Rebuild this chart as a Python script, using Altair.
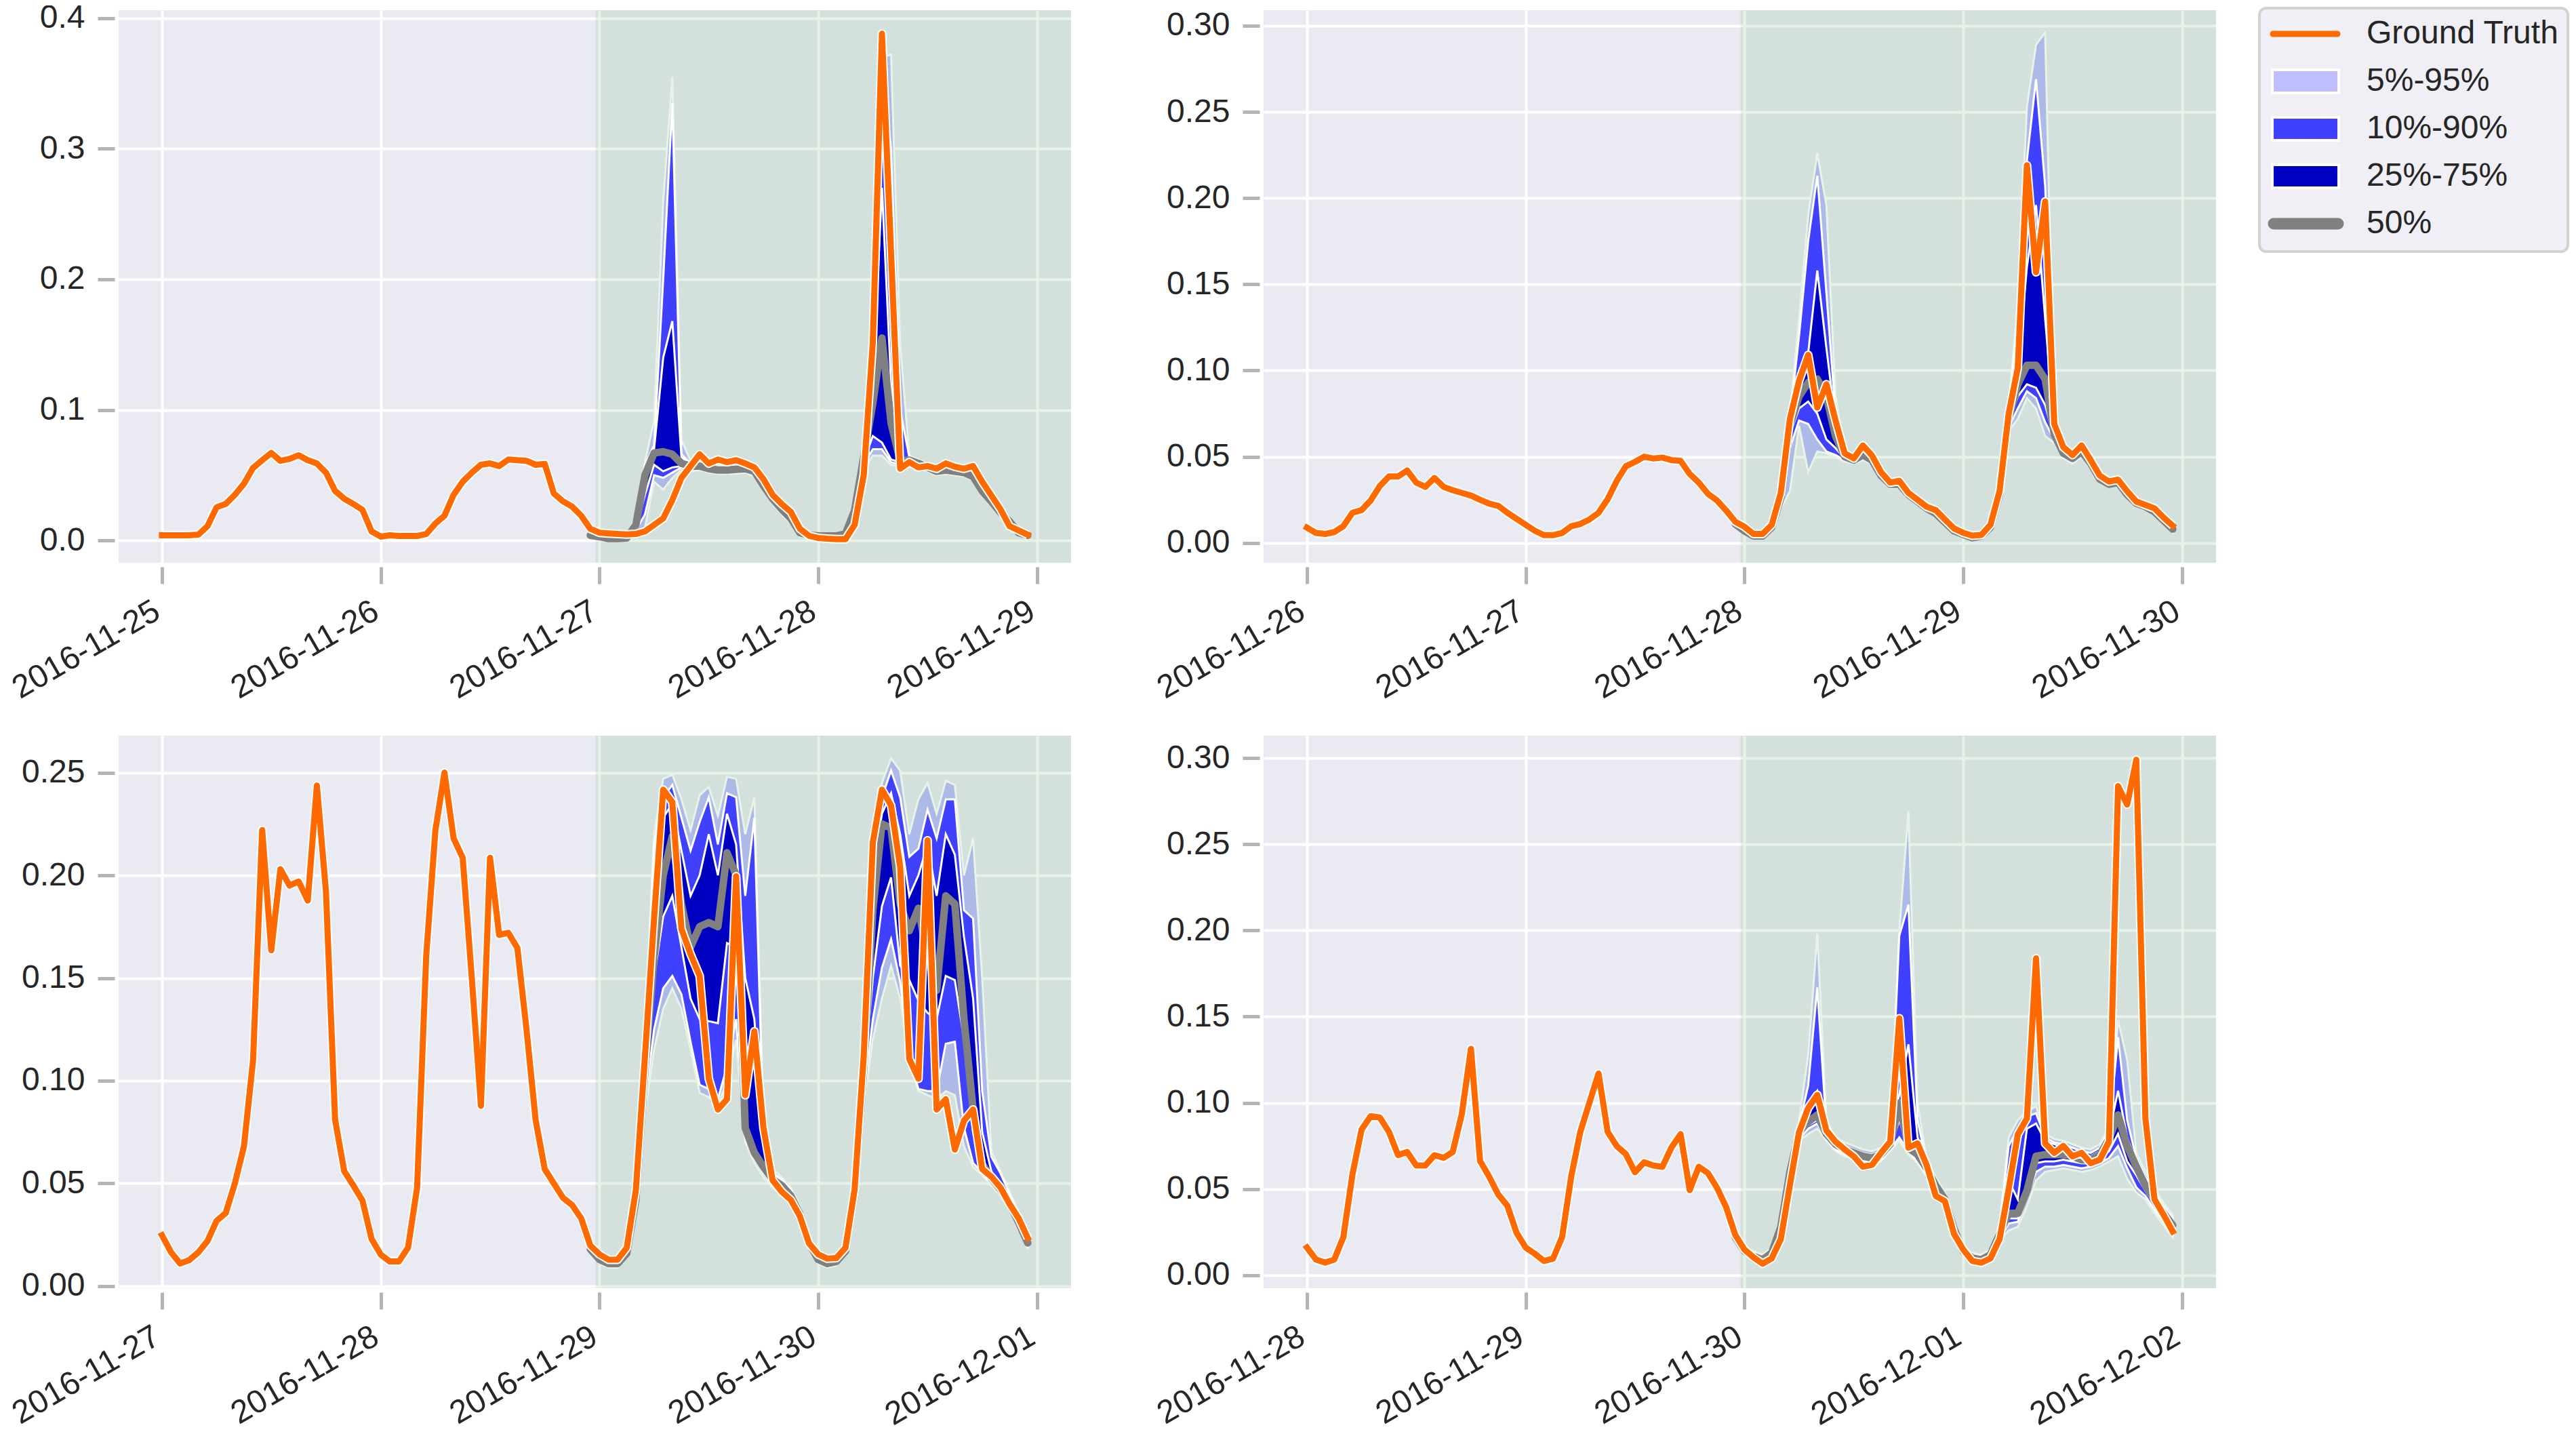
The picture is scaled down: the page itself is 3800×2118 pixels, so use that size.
import altair as alt
import pandas as pd

FONT = "Liberation Sans"
TEXT = "#262626"
ORANGE = "#FF6A00"
LIGHT = "#BFBFFF"
MID = "#4040FF"
DARK = "#0000C0"
GRAY = "#808080"

SERIES = ["Ground Truth", "5%-95%", "10%-90%", "25%-75%", "50%"]
SERIES_KIND = ["line", "band", "band", "band", "line"]
SERIES_COLORS = [ORANGE, LIGHT, MID, DARK, GRAY]

# ---------------- panel 1 (top left) ----------------
P1_START = "2016-11-25"
P1_YDOMAIN = [-0.017, 0.406]
P1_YTICKS = [0.0, 0.1, 0.2, 0.3, 0.4]
P1_GT = [0.004, 0.004, 0.004, 0.004, 0.0045, 0.011, 0.0255, 0.028, 0.035, 0.0435, 0.0556, 0.0615, 0.067, 0.061, 0.0625, 0.0653, 0.0615, 0.059, 0.052, 0.038, 0.032, 0.028, 0.0235, 0.007,
         0.003, 0.004, 0.0035, 0.0035, 0.0035, 0.005, 0.013, 0.019, 0.035, 0.045, 0.052, 0.058, 0.059, 0.057, 0.062, 0.0615, 0.061, 0.058, 0.0587, 0.036, 0.030, 0.026, 0.019, 0.009,
         0.006, 0.0055, 0.005, 0.0047, 0.005, 0.007, 0.012, 0.017, 0.031, 0.048, 0.057, 0.066, 0.059, 0.062, 0.060, 0.0615, 0.059, 0.056, 0.047, 0.035, 0.028, 0.022, 0.009, 0.0036,
         0.002, 0.0014, 0.001, 0.001, 0.012, 0.050, 0.152, 0.388, 0.22, 0.055, 0.060, 0.056, 0.057, 0.055, 0.059, 0.0565, 0.055, 0.057, 0.045, 0.0345, 0.024, 0.011, 0.0077, 0.0044]
P1_Q05 = [0.002,
          0.001, 0.0005, 0.0005, 0.001, 0.006, 0.01, 0.045, 0.039, 0.048, 0.054, 0.053, 0.054, 0.052, 0.051, 0.051, 0.051, 0.052, 0.049, 0.038, 0.028, 0.02, 0.013, 0.003, 0.002,
          0.002, 0.002, 0.002, 0.003, 0.015, 0.055, 0.065, 0.065, 0.058, 0.057, 0.058, 0.056, 0.053, 0.05, 0.051, 0.05, 0.049, 0.046, 0.035, 0.027, 0.019, 0.012, 0.004, 0.002]
P1_Q10 = [0.0025,
          0.0015, 0.001, 0.001, 0.0015, 0.008, 0.02, 0.05, 0.048, 0.052, 0.056, 0.055, 0.055, 0.053, 0.052, 0.052, 0.052, 0.053, 0.051, 0.04, 0.03, 0.022, 0.015, 0.004, 0.003,
          0.0025, 0.0025, 0.0025, 0.0035, 0.017, 0.058, 0.07, 0.07, 0.060, 0.058, 0.059, 0.057, 0.054, 0.051, 0.052, 0.051, 0.050, 0.047, 0.036, 0.028, 0.020, 0.013, 0.0045, 0.0025]
P1_Q25 = [0.003,
          0.002, 0.0012, 0.0012, 0.0017, 0.01, 0.035, 0.058, 0.053, 0.056, 0.057, 0.056, 0.056, 0.054, 0.053, 0.053, 0.053, 0.054, 0.052, 0.041, 0.031, 0.023, 0.016, 0.005, 0.0035,
          0.003, 0.003, 0.003, 0.004, 0.02, 0.061, 0.08, 0.075, 0.062, 0.060, 0.060, 0.058, 0.055, 0.052, 0.053, 0.052, 0.051, 0.048, 0.037, 0.029, 0.021, 0.014, 0.005, 0.003]
P1_Q50 = [0.004,
          0.003, 0.0015, 0.0015, 0.002, 0.012, 0.05, 0.067, 0.068, 0.066, 0.059, 0.057, 0.057, 0.055, 0.054, 0.054, 0.0545, 0.055, 0.053, 0.042, 0.032, 0.024, 0.017, 0.006, 0.004,
          0.0036, 0.0035, 0.0035, 0.005, 0.023, 0.064, 0.105, 0.155, 0.09, 0.061, 0.0615, 0.059, 0.056, 0.053, 0.054, 0.053, 0.052, 0.049, 0.038, 0.030, 0.0215, 0.0146, 0.006, 0.004]
P1_Q75 = [0.005,
          0.004, 0.002, 0.002, 0.003, 0.014, 0.055, 0.070, 0.140, 0.168, 0.064, 0.058, 0.058, 0.056, 0.055, 0.055, 0.0555, 0.056, 0.054, 0.043, 0.033, 0.025, 0.018, 0.007, 0.005,
          0.004, 0.004, 0.004, 0.006, 0.026, 0.067, 0.12, 0.27, 0.12, 0.062, 0.063, 0.060, 0.057, 0.054, 0.055, 0.054, 0.053, 0.050, 0.039, 0.031, 0.022, 0.0155, 0.007, 0.005]
P1_Q90 = [0.0055,
          0.005, 0.0025, 0.0025, 0.0035, 0.016, 0.058, 0.073, 0.20, 0.335, 0.066, 0.059, 0.059, 0.057, 0.056, 0.056, 0.056, 0.057, 0.055, 0.044, 0.034, 0.026, 0.019, 0.008, 0.0055,
          0.0045, 0.0045, 0.0045, 0.0065, 0.028, 0.07, 0.17, 0.36, 0.30, 0.10, 0.064, 0.061, 0.058, 0.055, 0.056, 0.055, 0.054, 0.051, 0.040, 0.032, 0.023, 0.016, 0.008, 0.0055]
P1_Q95 = [0.006,
          0.006, 0.003, 0.003, 0.004, 0.018, 0.06, 0.092, 0.26, 0.355, 0.077, 0.061, 0.060, 0.058, 0.057, 0.057, 0.057, 0.058, 0.056, 0.045, 0.035, 0.027, 0.02, 0.009, 0.006,
          0.005, 0.005, 0.005, 0.007, 0.03, 0.073, 0.20, 0.37, 0.372, 0.15, 0.065, 0.062, 0.059, 0.056, 0.057, 0.056, 0.055, 0.052, 0.041, 0.033, 0.024, 0.017, 0.009, 0.006]

# ---------------- panel 2 (top right) ----------------
P2_START = "2016-11-26"
P2_YDOMAIN = [-0.0115, 0.309]
P2_YTICKS = [0.0, 0.05, 0.10, 0.15, 0.20, 0.25, 0.30]
P2_GT = [0.0089, 0.0058, 0.0052, 0.0063, 0.0097, 0.0175, 0.019, 0.0246, 0.033, 0.0385, 0.0385, 0.042, 0.035, 0.0325, 0.0377, 0.0325, 0.0306, 0.029, 0.0275, 0.025, 0.0228, 0.0215, 0.0175, 0.014,
         0.0105, 0.0071, 0.0045, 0.0045, 0.0058, 0.0097, 0.011, 0.0136, 0.0175, 0.0254, 0.036, 0.0445, 0.047, 0.050, 0.049, 0.0495, 0.048, 0.0476, 0.040, 0.035, 0.0285, 0.0246, 0.0188, 0.0123,
         0.0094, 0.0052, 0.0052, 0.0105, 0.029, 0.072, 0.094, 0.109, 0.0785, 0.092, 0.071, 0.052, 0.049, 0.0565, 0.0507, 0.041, 0.035, 0.036, 0.029, 0.025, 0.021, 0.019, 0.0136, 0.0084,
         0.0059, 0.0042, 0.0046, 0.0105, 0.030, 0.075, 0.1016, 0.219, 0.157, 0.198, 0.069, 0.0555, 0.051, 0.0565, 0.048, 0.039, 0.0356, 0.0367, 0.030, 0.024, 0.022, 0.020, 0.0147, 0.010]
P2_Q05 = [0.009,
          0.006, 0.003, 0.003, 0.007, 0.02, 0.03, 0.068, 0.041, 0.053, 0.052, 0.05, 0.047, 0.046, 0.048, 0.046, 0.037, 0.032, 0.032, 0.026, 0.022, 0.018, 0.015, 0.01, 0.006,
          0.004, 0.002, 0.003, 0.007, 0.024, 0.065, 0.072, 0.084, 0.078, 0.062, 0.058, 0.049, 0.046, 0.050, 0.043, 0.035, 0.032, 0.033, 0.026, 0.021, 0.019, 0.016, 0.011, 0.006]
P2_Q10 = [0.0095,
          0.0065, 0.0035, 0.0035, 0.008, 0.022, 0.055, 0.071, 0.069, 0.06, 0.053, 0.051, 0.048, 0.047, 0.049, 0.047, 0.038, 0.033, 0.033, 0.027, 0.023, 0.019, 0.016, 0.011, 0.0065,
          0.0042, 0.0022, 0.0032, 0.0075, 0.025, 0.067, 0.078, 0.088, 0.084, 0.07, 0.06, 0.050, 0.047, 0.051, 0.044, 0.0355, 0.0325, 0.0335, 0.0265, 0.0215, 0.0195, 0.0165, 0.0115, 0.0065]
P2_Q25 = [0.010,
          0.0068, 0.0038, 0.0038, 0.0085, 0.024, 0.063, 0.078, 0.082, 0.075, 0.06, 0.055, 0.049, 0.0475, 0.050, 0.0475, 0.0385, 0.0335, 0.0335, 0.0275, 0.0235, 0.0195, 0.0165, 0.0115, 0.0068,
          0.0045, 0.0025, 0.0035, 0.008, 0.026, 0.070, 0.085, 0.092, 0.09, 0.08, 0.061, 0.051, 0.048, 0.052, 0.045, 0.036, 0.033, 0.034, 0.027, 0.022, 0.020, 0.017, 0.012, 0.007]
P2_Q50 = [0.011,
          0.007, 0.004, 0.004, 0.009, 0.026, 0.068, 0.085, 0.093, 0.095, 0.085, 0.062, 0.05, 0.048, 0.051, 0.048, 0.039, 0.034, 0.034, 0.028, 0.024, 0.020, 0.017, 0.012, 0.007,
          0.005, 0.003, 0.004, 0.009, 0.028, 0.072, 0.092, 0.103, 0.103, 0.095, 0.063, 0.052, 0.049, 0.053, 0.046, 0.037, 0.034, 0.035, 0.028, 0.023, 0.021, 0.018, 0.013, 0.008]
P2_Q75 = [0.0115,
          0.0075, 0.0045, 0.0045, 0.0095, 0.028, 0.070, 0.10, 0.11, 0.158, 0.113, 0.07, 0.051, 0.049, 0.052, 0.049, 0.040, 0.035, 0.035, 0.029, 0.025, 0.021, 0.018, 0.013, 0.0075,
          0.0055, 0.0035, 0.0045, 0.010, 0.030, 0.075, 0.10, 0.16, 0.196, 0.13, 0.066, 0.053, 0.050, 0.054, 0.047, 0.038, 0.035, 0.036, 0.029, 0.024, 0.022, 0.019, 0.014, 0.009]
P2_Q90 = [0.012,
          0.008, 0.005, 0.005, 0.010, 0.030, 0.072, 0.12, 0.175, 0.213, 0.145, 0.075, 0.052, 0.050, 0.053, 0.050, 0.041, 0.036, 0.036, 0.030, 0.026, 0.022, 0.019, 0.014, 0.008,
          0.006, 0.004, 0.005, 0.011, 0.031, 0.078, 0.13, 0.222, 0.269, 0.207, 0.07, 0.054, 0.051, 0.055, 0.048, 0.039, 0.036, 0.037, 0.030, 0.025, 0.023, 0.020, 0.015, 0.0095]
P2_Q95 = [0.013,
          0.009, 0.0055, 0.0055, 0.011, 0.032, 0.075, 0.13, 0.19, 0.226, 0.196, 0.085, 0.054, 0.051, 0.054, 0.051, 0.042, 0.037, 0.037, 0.031, 0.027, 0.023, 0.020, 0.015, 0.009,
          0.0065, 0.0045, 0.0055, 0.012, 0.032, 0.08, 0.14, 0.253, 0.289, 0.296, 0.073, 0.056, 0.053, 0.057, 0.050, 0.041, 0.037, 0.038, 0.031, 0.026, 0.024, 0.021, 0.016, 0.010]

# ---------------- panel 3 (bottom left) ----------------
P3_START = "2016-11-27"
P3_YDOMAIN = [-0.001, 0.268]
P3_YTICKS = [0.0, 0.05, 0.10, 0.15, 0.20, 0.25]
P3_GT = [0.0248, 0.0165, 0.011, 0.0127, 0.0165, 0.022, 0.0318, 0.0356, 0.050, 0.068, 0.110, 0.222, 0.1635, 0.203, 0.195, 0.197, 0.1877, 0.2437, 0.192, 0.081, 0.056, 0.049, 0.0417, 0.023,
         0.0154, 0.012, 0.012, 0.0187, 0.048, 0.161, 0.2217, 0.250, 0.218, 0.2085, 0.15, 0.0878, 0.2085, 0.171, 0.172, 0.1646, 0.125, 0.081, 0.057, 0.050, 0.043, 0.0395, 0.033, 0.0198,
         0.0155, 0.0129, 0.0129, 0.0187, 0.0468, 0.112, 0.179, 0.2417, 0.2356, 0.174, 0.1616, 0.151, 0.101, 0.086, 0.091, 0.1995, 0.093, 0.124, 0.077, 0.0516, 0.046, 0.042, 0.034, 0.0208,
         0.0155, 0.0134, 0.0137, 0.0187, 0.047, 0.112, 0.216, 0.2417, 0.234, 0.204, 0.1106, 0.101, 0.217, 0.086, 0.091, 0.0665, 0.0806, 0.086, 0.057, 0.0533, 0.048, 0.040, 0.033, 0.0234]
P3_Q05 = [0.016,
          0.011, 0.009, 0.009, 0.014, 0.038, 0.085, 0.115, 0.135, 0.145, 0.135, 0.115, 0.094, 0.092, 0.088, 0.10, 0.12, 0.07, 0.06, 0.053, 0.048, 0.045, 0.040, 0.031, 0.018,
          0.011, 0.009, 0.010, 0.015, 0.040, 0.088, 0.12, 0.14, 0.156, 0.14, 0.109, 0.095, 0.093, 0.091, 0.095, 0.093, 0.068, 0.058, 0.054, 0.049, 0.044, 0.037, 0.028, 0.018]
P3_Q10 = [0.0165,
          0.0115, 0.0095, 0.0095, 0.0145, 0.039, 0.09, 0.125, 0.145, 0.151, 0.142, 0.119, 0.098, 0.096, 0.091, 0.107, 0.13, 0.072, 0.062, 0.055, 0.049, 0.046, 0.041, 0.032, 0.019,
          0.0115, 0.0095, 0.0105, 0.0155, 0.041, 0.092, 0.13, 0.155, 0.169, 0.148, 0.112, 0.096, 0.095, 0.095, 0.118, 0.119, 0.077, 0.06, 0.055, 0.050, 0.045, 0.038, 0.029, 0.019]
P3_Q25 = [0.017,
          0.012, 0.010, 0.010, 0.015, 0.040, 0.10, 0.15, 0.18, 0.19, 0.165, 0.14, 0.13, 0.129, 0.128, 0.167, 0.165, 0.075, 0.063, 0.056, 0.050, 0.047, 0.042, 0.033, 0.020,
          0.012, 0.010, 0.011, 0.016, 0.043, 0.10, 0.15, 0.185, 0.199, 0.156, 0.149, 0.139, 0.133, 0.13, 0.151, 0.149, 0.12, 0.075, 0.058, 0.051, 0.046, 0.039, 0.030, 0.020]
P3_Q50 = [0.018,
          0.013, 0.011, 0.011, 0.016, 0.042, 0.105, 0.16, 0.20, 0.219, 0.186, 0.165, 0.175, 0.177, 0.175, 0.211, 0.200, 0.077, 0.065, 0.058, 0.052, 0.049, 0.044, 0.035, 0.021,
          0.013, 0.011, 0.012, 0.017, 0.045, 0.105, 0.183, 0.225, 0.223, 0.186, 0.173, 0.184, 0.16, 0.144, 0.19, 0.186, 0.13, 0.086, 0.0595, 0.0525, 0.047, 0.040, 0.031, 0.021]
P3_Q75 = [0.019,
          0.014, 0.012, 0.012, 0.017, 0.044, 0.115, 0.20, 0.228, 0.235, 0.212, 0.19, 0.20, 0.22, 0.20, 0.23, 0.215, 0.15, 0.13, 0.07, 0.054, 0.051, 0.046, 0.037, 0.022,
          0.014, 0.012, 0.013, 0.018, 0.047, 0.11, 0.2, 0.23, 0.24, 0.22, 0.19, 0.2, 0.215, 0.19, 0.22, 0.21, 0.17, 0.14, 0.075, 0.056, 0.049, 0.042, 0.033, 0.022]
P3_Q90 = [0.020,
          0.015, 0.013, 0.013, 0.018, 0.045, 0.12, 0.215, 0.238, 0.244, 0.228, 0.212, 0.226, 0.238, 0.215, 0.24, 0.238, 0.19, 0.228, 0.075, 0.055, 0.052, 0.047, 0.038, 0.023,
          0.015, 0.013, 0.014, 0.019, 0.048, 0.12, 0.21, 0.238, 0.251, 0.238, 0.209, 0.213, 0.232, 0.218, 0.237, 0.237, 0.183, 0.179, 0.095, 0.063, 0.055, 0.045, 0.035, 0.024]
P3_Q95 = [0.021,
          0.016, 0.014, 0.014, 0.019, 0.046, 0.125, 0.22, 0.247, 0.249, 0.237, 0.222, 0.239, 0.243, 0.229, 0.248, 0.247, 0.22, 0.238, 0.08, 0.057, 0.053, 0.048, 0.039, 0.024,
          0.016, 0.014, 0.015, 0.020, 0.049, 0.13, 0.22, 0.245, 0.257, 0.251, 0.22, 0.237, 0.245, 0.23, 0.246, 0.244, 0.20, 0.218, 0.15, 0.066, 0.056, 0.046, 0.036, 0.025]

# ---------------- panel 4 (bottom right) ----------------
P4_START = "2016-11-28"
P4_YDOMAIN = [-0.0075, 0.313]
P4_YTICKS = [0.0, 0.05, 0.10, 0.15, 0.20, 0.25, 0.30]
P4_GT = [0.0161, 0.0091, 0.0073, 0.0091, 0.0221, 0.0585, 0.0845, 0.0923, 0.0915, 0.0832, 0.0697, 0.0715, 0.0637, 0.0637, 0.0697, 0.0681, 0.0715, 0.0936, 0.1313, 0.0663, 0.0572, 0.0468, 0.0403, 0.0247,
         0.0161, 0.0125, 0.0083, 0.0096, 0.0221, 0.0572, 0.0832, 0.1001, 0.117, 0.0832, 0.0749, 0.0702, 0.0598, 0.0655, 0.0637, 0.0629, 0.0741, 0.0819, 0.0494, 0.0629, 0.0593, 0.0507, 0.0395, 0.0234,
         0.015, 0.0104, 0.0067, 0.0098, 0.021, 0.0525, 0.083, 0.097, 0.1046, 0.084, 0.0775, 0.073, 0.069, 0.063, 0.064, 0.071, 0.0775, 0.149, 0.074, 0.0765, 0.064, 0.046, 0.043, 0.024,
         0.015, 0.0083, 0.0073, 0.0098, 0.021, 0.050, 0.0817, 0.091, 0.1838, 0.0765, 0.071, 0.075, 0.069, 0.071, 0.065, 0.067, 0.0775, 0.2837, 0.273, 0.299, 0.091, 0.044, 0.035, 0.0254]
P4_Q05 = [0.019,
          0.012, 0.009, 0.007, 0.011, 0.025, 0.055, 0.078, 0.082, 0.085, 0.078, 0.072, 0.069, 0.067, 0.065, 0.064, 0.066, 0.072, 0.078, 0.07, 0.065, 0.057, 0.049, 0.041, 0.024,
          0.012, 0.008, 0.007, 0.010, 0.020, 0.026, 0.028, 0.040, 0.055, 0.060, 0.061, 0.062, 0.061, 0.060, 0.061, 0.063, 0.066, 0.069, 0.056, 0.048, 0.044, 0.036, 0.029, 0.022]
P4_Q10 = [0.020,
          0.0125, 0.0095, 0.0075, 0.0115, 0.026, 0.056, 0.079, 0.085, 0.088, 0.079, 0.073, 0.070, 0.068, 0.066, 0.065, 0.067, 0.073, 0.08, 0.072, 0.066, 0.058, 0.050, 0.042, 0.025,
          0.0125, 0.0085, 0.0075, 0.0105, 0.021, 0.030, 0.031, 0.045, 0.060, 0.063, 0.063, 0.064, 0.063, 0.062, 0.063, 0.065, 0.068, 0.075, 0.062, 0.051, 0.046, 0.038, 0.031, 0.024]
P4_Q25 = [0.021,
          0.013, 0.010, 0.008, 0.012, 0.027, 0.058, 0.081, 0.087, 0.090, 0.080, 0.074, 0.071, 0.069, 0.067, 0.066, 0.068, 0.074, 0.09, 0.073, 0.067, 0.059, 0.051, 0.043, 0.026,
          0.013, 0.009, 0.008, 0.011, 0.022, 0.033, 0.033, 0.047, 0.065, 0.066, 0.066, 0.067, 0.066, 0.065, 0.065, 0.067, 0.072, 0.082, 0.066, 0.058, 0.049, 0.041, 0.033, 0.026]
P4_Q50 = [0.022,
          0.014, 0.011, 0.009, 0.013, 0.028, 0.06, 0.083, 0.089, 0.093, 0.082, 0.076, 0.073, 0.071, 0.069, 0.068, 0.070, 0.076, 0.10, 0.074, 0.070, 0.062, 0.052, 0.044, 0.027,
          0.014, 0.010, 0.009, 0.012, 0.024, 0.036, 0.036, 0.049, 0.069, 0.070, 0.070, 0.070, 0.069, 0.067, 0.067, 0.070, 0.079, 0.093, 0.075, 0.063, 0.052, 0.044, 0.036, 0.029]
P4_Q75 = [0.023,
          0.015, 0.012, 0.010, 0.014, 0.029, 0.062, 0.085, 0.10, 0.107, 0.084, 0.077, 0.074, 0.072, 0.070, 0.069, 0.071, 0.078, 0.105, 0.134, 0.08, 0.064, 0.054, 0.045, 0.028,
          0.015, 0.011, 0.010, 0.013, 0.026, 0.055, 0.044, 0.085, 0.088, 0.078, 0.076, 0.074, 0.072, 0.070, 0.069, 0.072, 0.082, 0.107, 0.08, 0.066, 0.055, 0.046, 0.038, 0.031]
P4_Q90 = [0.024,
          0.016, 0.013, 0.011, 0.015, 0.030, 0.064, 0.087, 0.11, 0.167, 0.086, 0.078, 0.075, 0.073, 0.071, 0.070, 0.072, 0.08, 0.197, 0.215, 0.09, 0.065, 0.055, 0.046, 0.029,
          0.016, 0.012, 0.011, 0.014, 0.028, 0.075, 0.085, 0.092, 0.094, 0.080, 0.077, 0.076, 0.074, 0.072, 0.071, 0.074, 0.084, 0.138, 0.09, 0.068, 0.057, 0.048, 0.040, 0.033]
P4_Q95 = [0.025,
          0.017, 0.014, 0.012, 0.016, 0.032, 0.066, 0.09, 0.1275, 0.198, 0.09, 0.080, 0.077, 0.075, 0.073, 0.072, 0.074, 0.082, 0.2, 0.269, 0.1, 0.067, 0.057, 0.048, 0.030,
          0.017, 0.013, 0.012, 0.015, 0.030, 0.080, 0.09, 0.095, 0.098, 0.082, 0.079, 0.078, 0.076, 0.074, 0.073, 0.076, 0.086, 0.148, 0.125, 0.071, 0.060, 0.050, 0.042, 0.035]

PANEL_W = 1405
PANEL_H = 815
LEG_X0 = PANEL_W + 64
LEG_Y0 = -3
LEG_W = 455
LEG_H = 359
TICK_FONT = 48

CSCALE = alt.Scale(domain=SERIES, range=SERIES_COLORS)


def dt(ts):
    return alt.DateTime(year=int(ts.year), month=int(ts.month), date=int(ts.day),
                        hours=int(ts.hour), minutes=int(ts.minute))


def panel(start, gt, qs, ydomain, yticks, yfmt):
    assert len(gt) == 96, len(gt)
    for q in qs:
        assert len(q) == 49, len(q)
    t0 = pd.Timestamp(start)
    hist_t = pd.date_range(t0, periods=len(gt), freq="h")
    fc_t = pd.date_range(t0 + pd.Timedelta(hours=47), periods=len(qs[0]), freq="h")
    gt_df = pd.DataFrame({"t": hist_t, "v": gt})
    fc_df = pd.DataFrame({"t": fc_t, "q05": qs[0], "q10": qs[1], "q25": qs[2], "q50": qs[3],
                          "q75": qs[4], "q90": qs[5], "q95": qs[6]})
    pad = pd.Timedelta(minutes=285)
    x_lo = hist_t[0] - pad
    x_hi = hist_t[-1] + pad
    shade_df = pd.DataFrame({"a": [t0 + pd.Timedelta(hours=48) - pd.Timedelta(minutes=25)],
                             "b": [x_hi], "lo": [ydomain[0]], "hi": [ydomain[1]]})

    xs = alt.Scale(domain=[dt(x_lo), dt(x_hi)], nice=False)
    ys = alt.Scale(domain=ydomain, nice=False, zero=False)
    xaxis = alt.Axis(values=[dt(t0 + pd.Timedelta(days=k)) for k in range(5)], format="%Y-%m-%d",
                     labelAngle=-30, labelAlign="right", labelBaseline="top",
                     labelPadding=16, labelOffset=-19,
                     labelOverlap=False, labelFlush=False, labelLimit=600,
                     labelFont=FONT, labelFontSize=TICK_FONT, labelColor=TEXT,
                     tickSize=25, tickWidth=5, tickColor="#B5B5B5", offset=6,
                     domain=False, grid=True, gridColor="white", gridWidth=4, title=None)
    yaxis = alt.Axis(values=yticks, format=yfmt, labelPadding=19, labelLimit=600,
                     labelFont=FONT, labelFontSize=TICK_FONT, labelColor=TEXT,
                     tickSize=25, tickWidth=5, tickColor="#B5B5B5", offset=6,
                     domain=False, grid=True, gridColor="white", gridWidth=4, title=None)

    def X(f):
        return alt.X(f, type="temporal", scale=xs, axis=xaxis, title=None)

    def Y(f):
        return alt.Y(f, type="quantitative", scale=ys, axis=yaxis, title=None)

    def C():
        return alt.Color("s:N", scale=CSCALE, legend=None)

    def band(lo, hi, name):
        return (alt.Chart(fc_df).transform_calculate(s=f"'{name}'")
                .mark_area(stroke="white", strokeWidth=3, clip=True)
                .encode(x=X("t"), y=Y(lo), y2=alt.Y2(hi), color=C()))

    b95 = band("q05", "q95", "5%-95%")
    shade = (alt.Chart(shade_df).mark_rect(color="green", opacity=0.095, clip=True)
             .encode(x=X("a"), x2=alt.X2("b"), y=Y("lo"), y2=alt.Y2("hi")))
    b90 = band("q10", "q90", "10%-90%")
    b75 = band("q25", "q75", "25%-75%")
    med = (alt.Chart(fc_df).transform_calculate(s="'50%'")
           .mark_line(strokeWidth=11, strokeCap="round", strokeJoin="round", clip=True)
           .encode(x=X("t"), y=Y("q50"), color=C()))
    gt_halo = (alt.Chart(gt_df).mark_line(color="white", strokeWidth=13, strokeJoin="round", clip=True)
               .encode(x=X("t"), y=Y("v")))
    gt_line = (alt.Chart(gt_df).transform_calculate(s="'Ground Truth'")
               .mark_line(strokeWidth=9, strokeJoin="round", strokeCap="square", clip=True)
               .encode(x=X("t"), y=Y("v"), color=C()))
    return alt.layer(b95, shade, b90, b75, med, gt_halo, gt_line)


def legend_layer():
    leg_df = pd.DataFrame({"s": SERIES, "kind": SERIES_KIND})
    frame_df = pd.DataFrame({"s": ["frame"]})
    ly = alt.Y("s:N", scale=alt.Scale(type="point", domain=SERIES,
                                      range=[LEG_Y0 + 38, LEG_Y0 + 318], padding=0),
               axis=None, title=None)
    lc = alt.Color("s:N", scale=CSCALE, legend=None)
    base = alt.Chart(leg_df)
    frame = (alt.Chart(frame_df)
             .mark_rect(fill="#EFEFF5", stroke="#D2D2D2", strokeWidth=4, cornerRadius=10)
             .encode(x=alt.value(LEG_X0), x2=alt.value(LEG_X0 + LEG_W),
                     y=alt.value(LEG_Y0), y2=alt.value(LEG_Y0 + LEG_H)))
    gt_sym = (base.transform_filter("datum.s === 'Ground Truth'")
              .mark_rule(strokeWidth=9, strokeCap="round")
              .encode(x=alt.value(LEG_X0 + 20), x2=alt.value(LEG_X0 + 115), y=ly, color=lc))
    band_halo = (base.transform_filter("datum.kind === 'band'")
                 .mark_rule(strokeWidth=38, strokeCap="butt", color="white")
                 .encode(x=alt.value(LEG_X0 + 17), x2=alt.value(LEG_X0 + 119), y=ly))
    band_sym = (base.transform_filter("datum.kind === 'band'")
                .mark_rule(strokeWidth=30, strokeCap="butt")
                .encode(x=alt.value(LEG_X0 + 21), x2=alt.value(LEG_X0 + 115), y=ly, color=lc))
    med_sym = (base.transform_filter("datum.s === '50%'")
               .mark_rule(strokeWidth=17, strokeCap="round")
               .encode(x=alt.value(LEG_X0 + 21), x2=alt.value(LEG_X0 + 116), y=ly, color=lc))
    labels = (base.mark_text(align="left", baseline="middle", fontSize=48, font=FONT, color=TEXT)
              .encode(x=alt.value(LEG_X0 + 158), y=ly, text="s:N"))
    return alt.layer(frame, gt_sym, band_halo, band_sym, med_sym, labels)


p1 = panel(P1_START, P1_GT, [P1_Q05, P1_Q10, P1_Q25, P1_Q50, P1_Q75, P1_Q90, P1_Q95], P1_YDOMAIN, P1_YTICKS, ".1f")
p2_data = panel(P2_START, P2_GT, [P2_Q05, P2_Q10, P2_Q25, P2_Q50, P2_Q75, P2_Q90, P2_Q95], P2_YDOMAIN, P2_YTICKS, ".2f")
p3 = panel(P3_START, P3_GT, [P3_Q05, P3_Q10, P3_Q25, P3_Q50, P3_Q75, P3_Q90, P3_Q95], P3_YDOMAIN, P3_YTICKS, ".2f")
p4 = panel(P4_START, P4_GT, [P4_Q05, P4_Q10, P4_Q25, P4_Q50, P4_Q75, P4_Q90, P4_Q95], P4_YDOMAIN, P4_YTICKS, ".2f")
p2 = alt.layer(p2_data, legend_layer()).resolve_scale(y="independent")

p1 = p1.properties(width=PANEL_W, height=PANEL_H)
p2 = p2.properties(width=PANEL_W, height=PANEL_H)
p3 = p3.properties(width=PANEL_W, height=PANEL_H)
p4 = p4.properties(width=PANEL_W, height=PANEL_H)

chart = (alt.concat(p1, p2, p3, p4, columns=2, spacing={"row": 255, "column": 284}, bounds="flush")
         .resolve_scale(color="shared")
         .properties(padding={"left": 2, "top": -6, "right": 0, "bottom": 0}, background="white")
         .configure(font=FONT)
         .configure_view(fill="#EAEAF2", strokeWidth=0))

chart.save("out.html", embed_options={"renderer": "svg", "actions": False})
